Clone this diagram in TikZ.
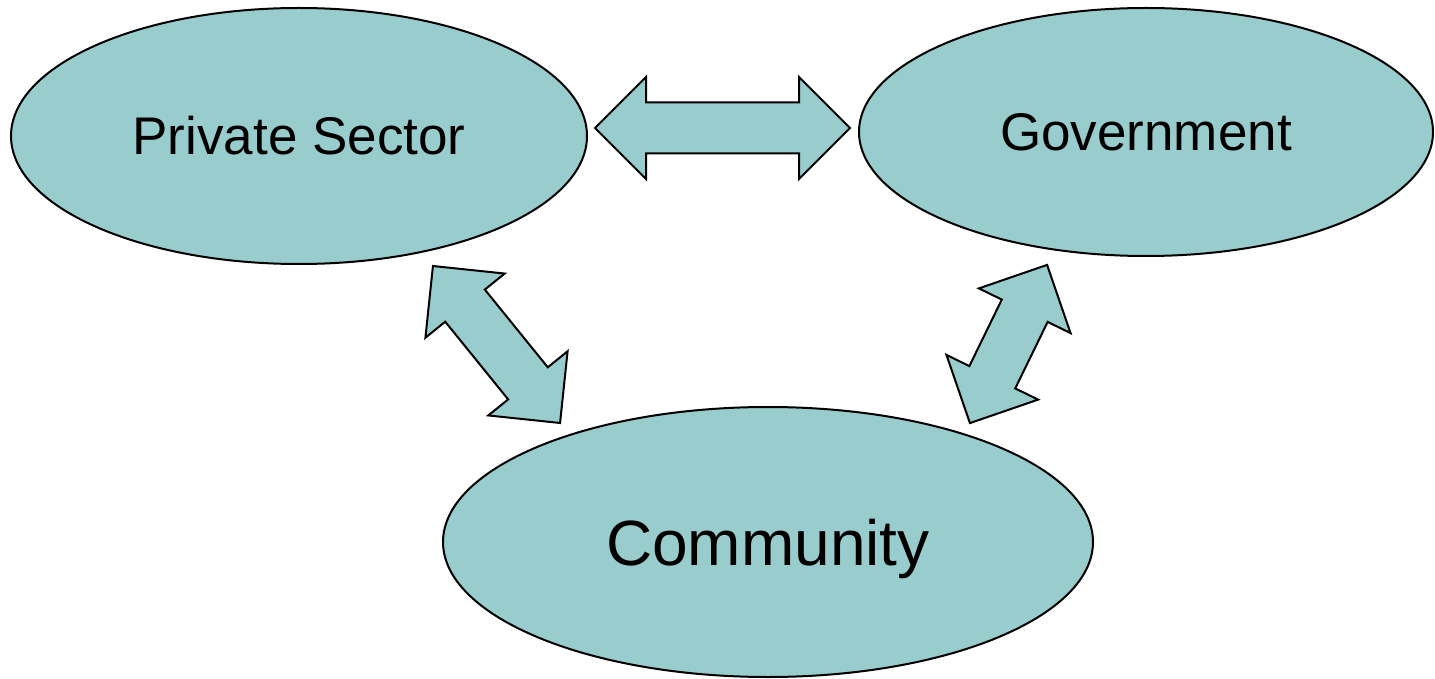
\documentclass[tikz,border=0pt]{standalone}
\usepackage{fontspec}
\setmainfont{Liberation Sans}
\usetikzlibrary{shapes.geometric}

\definecolor{tealfill}{HTML}{99CCCC}

\tikzset{
    sector/.style={ellipse, draw=black, line width=1pt, fill=tealfill, inner sep=0pt},
    blockarrow/.style={draw=black, line width=1pt, fill=tealfill, line join=miter},
    pics/dblarrow/.style={code={
        \draw [blockarrow] (-#1,0) -- ({-#1+51},51) -- ({-#1+51},25.5) -- ({#1-51},25.5)
            -- ({#1-51},51) -- (#1,0) -- ({#1-51},-51) -- ({#1-51},-25.5)
            -- ({-#1+51},-25.5) -- ({-#1+51},-51) -- cycle;
    }}
}

\begin{document}
\begin{tikzpicture}[x=0.5pt, y=-0.5pt]
    \useasboundingbox (0,0) rectangle (1435,679);
    % the three partners
    \node [sector, minimum width=288pt, minimum height=128pt, font=\fontsize{26.5}{30}\selectfont] (private) at (299,136) {Private Sector};
    \node [sector, minimum width=287pt, minimum height=124pt, font=\fontsize{26.5}{30}\selectfont] (gov) at (1146,132) {Government};
    \node [sector, minimum width=325pt, minimum height=135pt, text depth=0pt, font=\fontsize{32}{36}\selectfont] (community) at (768,542) {Community};
    % two-way links
    \pic [shift={(722.5,128)}] {dblarrow=127.5};
    \pic [shift={(496.5,344.5)}, rotate=-51] {dblarrow=101};
    \pic [shift={(1008.5,344)}, rotate=64] {dblarrow=88};
\end{tikzpicture}
\end{document}
